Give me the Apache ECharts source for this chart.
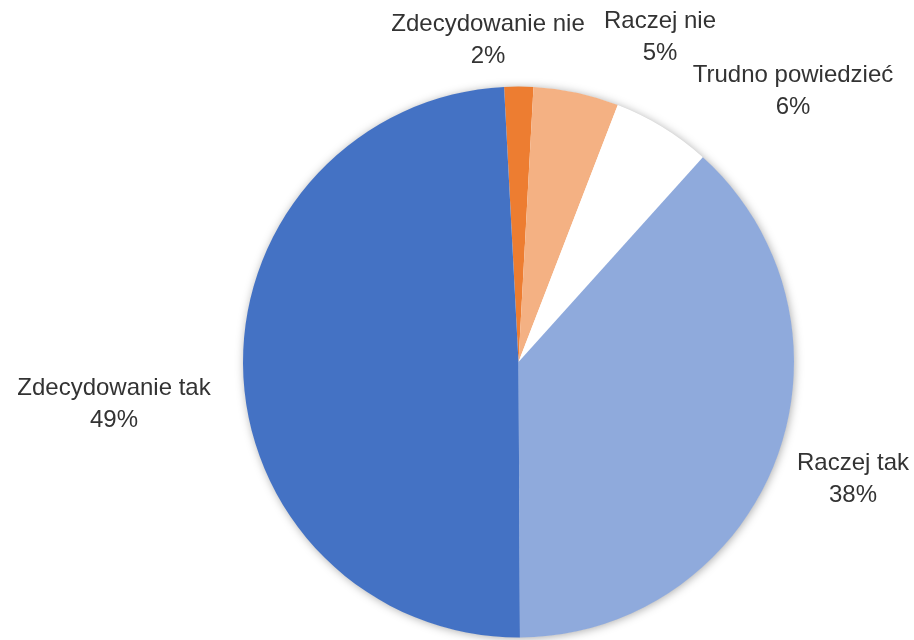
<!DOCTYPE html>
<html>
<head>
<meta charset="utf-8">
<script src="https://cdn.jsdelivr.net/npm/echarts@6/dist/echarts.min.js"></script>
<style>
  html, body { margin: 0; padding: 0; background: #ffffff; }
  #chart { width: 914px; height: 640px; }
</style>
</head>
<body>
<div id="chart"></div>
<script>
// Data (clockwise from just left of 12 o'clock)
const categories = ['Zdecydowanie nie', 'Raczej nie', 'Trudno powiedzieć', 'Raczej tak', 'Zdecydowanie tak'];
const values = [1.7, 5.0, 5.8, 38.25, 49.25];
const percentLabels = ['2%', '5%', '6%', '38%', '49%'];

// Styles / layout (not data)
const colors = ['#ED7D31', '#F4B183', '#FFFFFF', '#8FAADC', '#4472C4'];
const labelX = [488, 660, 793, 853, 114];
const labelY = [40, 37, 91, 479, 404];

const chart = echarts.init(document.getElementById('chart'), null, { renderer: 'canvas' });

const pieData = categories.map((name, i) => ({
  name: name,
  value: values[i],
  itemStyle: { color: colors[i] }
}));

chart.setOption({
  animation: false,
  backgroundColor: '#ffffff',
  textStyle: { fontFamily: 'Liberation Sans' },
  series: [
    {
      // soft shadow disc behind the pie
      type: 'pie',
      silent: true,
      z: 1,
      center: [518.5, 362],
      radius: 275,
      data: [{ value: 1, name: '' }],
      itemStyle: { color: '#ffffff', shadowBlur: 10, shadowColor: 'rgba(0,0,0,0.35)', shadowOffsetX: 1, shadowOffsetY: 1 },
      label: { show: false },
      labelLine: { show: false }
    },
    {
      type: 'pie',
      z: 2,
      center: [518.5, 362],
      radius: 275.5,
      startAngle: 93,
      clockwise: true,
      data: pieData,
      itemStyle: { borderWidth: 0 },
      label: {
        show: true,
        position: 'outside',
        color: '#333333',
        fontFamily: 'Liberation Sans',
        fontSize: 24,
        lineHeight: 32,
        align: 'center',
        overflow: 'none',
        width: 260,
        formatter: (p) => p.name + '\n' + percentLabels[p.dataIndex]
      },
      labelLine: { show: false },
      labelLayout: (params) => ({
        x: labelX[params.dataIndex],
        y: labelY[params.dataIndex],
        align: 'center',
        verticalAlign: 'middle'
      }),
      emphasis: { disabled: true }
    }
  ]
});
</script>
</body>
</html>
